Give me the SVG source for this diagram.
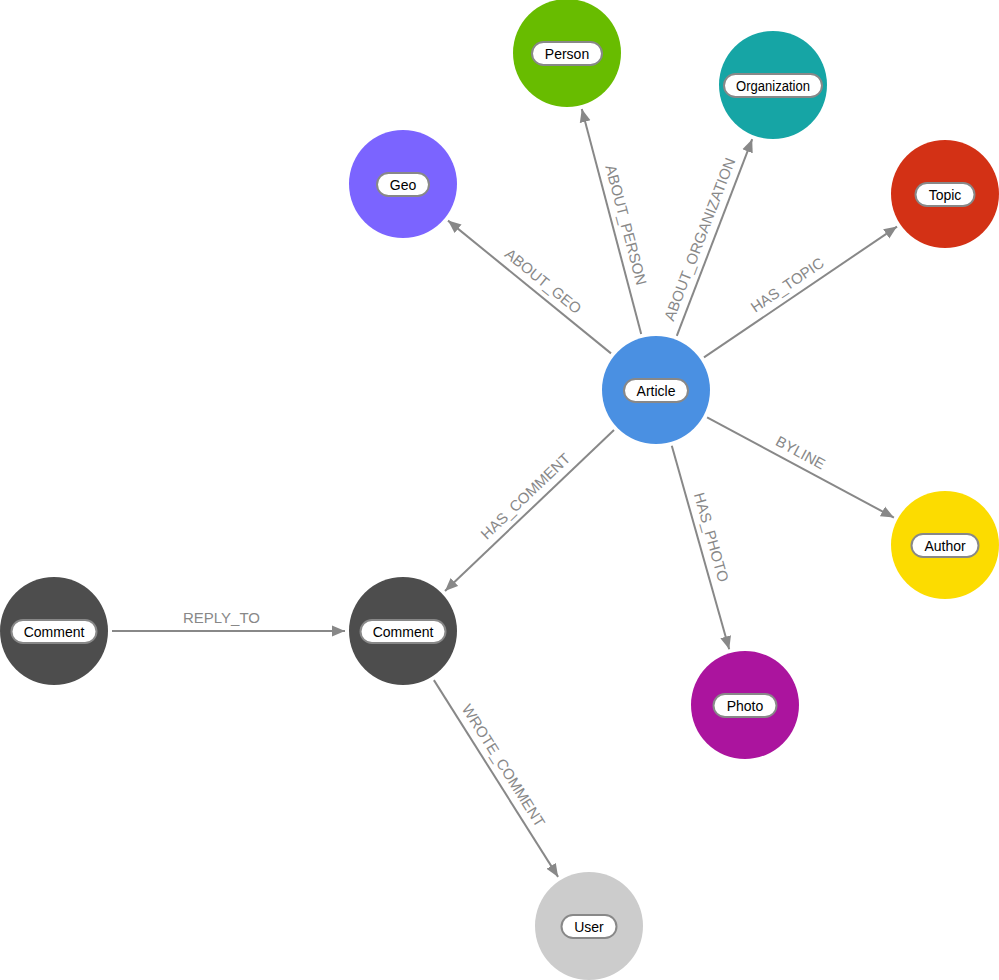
<svg xmlns="http://www.w3.org/2000/svg" width="999" height="980" viewBox="0 0 999 980">
<style>
.edge{stroke:#888;stroke-width:2;fill:none}
.elabel{font-family:"Liberation Sans",Arial,sans-serif;font-size:15px;fill:#888;text-anchor:middle}
.pill{fill:#fff;stroke:#888;stroke-width:2}
.nlabel{font-family:"Liberation Sans",Arial,sans-serif;font-size:14px;fill:#000;text-anchor:middle}
</style>
<defs>
<marker id="arrow" markerUnits="userSpaceOnUse" markerWidth="14" markerHeight="12" refX="13" refY="6" orient="auto">
<path d="M0,0.5 L13,6 L0,11.5 Z" fill="#888"/>
</marker>
</defs>
<rect width="999" height="980" fill="#fff"/>
<g id="connectors">
<line class="edge" x1="611.0" y1="353.4" x2="448.0" y2="220.6" marker-end="url(#arrow)"/>
<text class="elabel" transform="translate(534.9,291.4) rotate(39.16)" x="0" y="-8">ABOUT_GEO</text>
<line class="edge" x1="641.2" y1="333.9" x2="581.8" y2="109.1" marker-end="url(#arrow)"/>
<text class="elabel" transform="translate(613.3,228.3) rotate(75.21)" x="0" y="-8">ABOUT_PERSON</text>
<line class="edge" x1="676.8" y1="335.9" x2="752.2" y2="139.2" marker-end="url(#arrow)"/>
<text class="elabel" transform="translate(712.0,244.0) rotate(-69.0)" x="0" y="-8">ABOUT_ORGANIZATION</text>
<line class="edge" x1="704.0" y1="357.4" x2="897.0" y2="226.6" marker-end="url(#arrow)"/>
<text class="elabel" transform="translate(794.7,295.9) rotate(-34.14)" x="0" y="-8">HAS_TOPIC</text>
<line class="edge" x1="707.1" y1="417.4" x2="893.9" y2="517.6" marker-end="url(#arrow)"/>
<text class="elabel" transform="translate(794.3,464.2) rotate(28.2)" x="0" y="-8">BYLINE</text>
<line class="edge" x1="671.8" y1="445.8" x2="729.2" y2="649.2" marker-end="url(#arrow)"/>
<text class="elabel" transform="translate(698.6,540.8) rotate(74.22)" x="0" y="-8">HAS_PHOTO</text>
<line class="edge" x1="614.0" y1="430.0" x2="445.0" y2="591.0" marker-end="url(#arrow)"/>
<text class="elabel" transform="translate(534.6,505.7) rotate(-43.6)" x="0" y="-8">HAS_COMMENT</text>
<line class="edge" x1="112" y1="631" x2="345" y2="631" marker-end="url(#arrow)"/>
<text class="elabel" x="221.5" y="623">REPLY_TO</text>
<line class="edge" x1="433.9" y1="680.1" x2="558.1" y2="876.9" marker-end="url(#arrow)"/>
<text class="elabel" transform="translate(492.3,772.6) rotate(57.76)" x="0" y="-8">WROTE_COMMENT</text>
</g>
<g id="node-article">
<circle cx="656" cy="390" r="54" fill="#4A90E2"/>
<rect class="pill" x="624" y="379" width="64" height="23" rx="11.5"/>
<text class="nlabel" x="656" y="396">Article</text>
</g>
<g id="node-person">
<circle cx="567" cy="53" r="54" fill="#68BC00"/>
<rect class="pill" x="532" y="42" width="70" height="23" rx="11.5"/>
<text class="nlabel" x="567" y="59">Person</text>
</g>
<g id="node-organization">
<circle cx="773" cy="85" r="54" fill="#16A5A5"/>
<rect class="pill" x="724" y="74" width="98" height="23" rx="11.5"/>
<text class="nlabel" x="773" y="91" textLength="74" lengthAdjust="spacingAndGlyphs">Organization</text>
</g>
<g id="node-geo">
<circle cx="403" cy="184" r="54" fill="#7B64FF"/>
<rect class="pill" x="377" y="173" width="52" height="23" rx="11.5"/>
<text class="nlabel" x="403" y="190">Geo</text>
</g>
<g id="node-topic">
<circle cx="945" cy="194" r="54" fill="#D33115"/>
<rect class="pill" x="915.5" y="183" width="59" height="23" rx="11.5"/>
<text class="nlabel" x="945" y="200">Topic</text>
</g>
<g id="node-author">
<circle cx="945" cy="545" r="54" fill="#FCDC00"/>
<rect class="pill" x="911.5" y="534" width="67" height="23" rx="11.5"/>
<text class="nlabel" x="945" y="551">Author</text>
</g>
<g id="node-photo">
<circle cx="745" cy="705" r="54" fill="#AB149E"/>
<rect class="pill" x="713.5" y="694" width="63" height="23" rx="11.5"/>
<text class="nlabel" x="745" y="711">Photo</text>
</g>
<g id="node-comment-left">
<circle cx="54" cy="631" r="54" fill="#4D4D4D"/>
<rect class="pill" x="11.5" y="620" width="85" height="23" rx="11.5"/>
<text class="nlabel" x="54" y="637">Comment</text>
</g>
<g id="node-comment">
<circle cx="403" cy="631" r="54" fill="#4D4D4D"/>
<rect class="pill" x="360.5" y="620" width="85" height="23" rx="11.5"/>
<text class="nlabel" x="403" y="637">Comment</text>
</g>
<g id="node-user">
<circle cx="589" cy="926" r="54" fill="#CCCCCC"/>
<rect class="pill" x="561.5" y="915" width="55" height="23" rx="11.5"/>
<text class="nlabel" x="589" y="932">User</text>
</g>
</svg>
